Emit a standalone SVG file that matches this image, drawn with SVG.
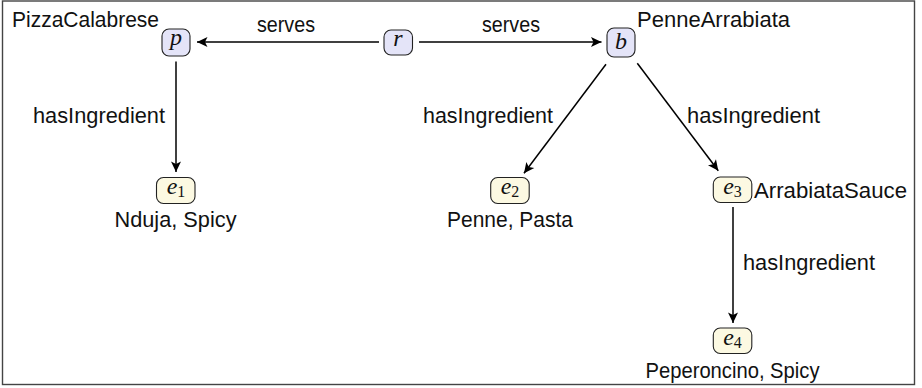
<svg xmlns="http://www.w3.org/2000/svg" width="922" height="388" viewBox="0 0 922 388">
<style>
.frame{fill:#fff;stroke:#444;stroke-width:1.4}
.nb{fill:#e4e4f8;stroke:#222;stroke-width:1.1}
.ny{fill:#fcf9e2;stroke:#222;stroke-width:1.1}
.m{font-family:"Liberation Serif","DejaVu Serif",serif;font-style:italic;font-size:24px;fill:#111}
.sub{font-style:normal;font-size:16px}
.t{font-family:"Liberation Sans",Arial,sans-serif;font-size:22.5px;fill:#111}
.e{fill:none;stroke:#000;stroke-width:1.5}
</style>
<defs>
<marker id="ah" markerUnits="userSpaceOnUse" viewBox="-11 -6 12 12" refX="0" refY="0" markerWidth="12" markerHeight="12" orient="auto">
<path d="M0,0 L-10.5,-5 L-8,0 L-10.5,5 Z" fill="#000"/>
</marker>
</defs>
<rect class="frame" x="2.5" y="1" width="912" height="383.5"/>
<g id="connectors">
<line class="e" x1="379" y1="42" x2="197" y2="42" marker-end="url(#ah)"/>
<line class="e" x1="419" y1="42" x2="601.5" y2="42" marker-end="url(#ah)"/>
<line class="e" x1="176" y1="61.5" x2="176" y2="172" marker-end="url(#ah)"/>
<line class="e" x1="606" y1="64.3" x2="524" y2="173.3" marker-end="url(#ah)"/>
<line class="e" x1="637.3" y1="63.3" x2="718.3" y2="170.7" marker-end="url(#ah)"/>
<line class="e" x1="733" y1="207" x2="733" y2="323" marker-end="url(#ah)"/>
<text class="t" x="257" y="32.3" textLength="58" lengthAdjust="spacingAndGlyphs">serves</text>
<text class="t" x="482" y="32.3" textLength="58" lengthAdjust="spacingAndGlyphs">serves</text>
<text class="t" x="33" y="123.3" textLength="132" lengthAdjust="spacingAndGlyphs">hasIngredient</text>
<text class="t" x="423" y="123.3" textLength="130" lengthAdjust="spacingAndGlyphs">hasIngredient</text>
<text class="t" x="687" y="123.3" textLength="133" lengthAdjust="spacingAndGlyphs">hasIngredient</text>
<text class="t" x="743" y="270" textLength="132" lengthAdjust="spacingAndGlyphs">hasIngredient</text>
</g>
<g id="p">
<rect class="nb" x="162" y="29" width="28" height="27" rx="7"/>
<text class="m" x="176" y="45" text-anchor="middle">p</text>
<text class="t" x="12" y="26.7" textLength="147" lengthAdjust="spacingAndGlyphs">PizzaCalabrese</text>
</g>
<g id="r">
<rect class="nb" x="384" y="30" width="28.5" height="25" rx="7"/>
<text class="m" x="398" y="46" text-anchor="middle">r</text>
</g>
<g id="b">
<rect class="nb" x="607" y="28" width="28" height="29" rx="7"/>
<text class="m" x="621" y="49" text-anchor="middle">b</text>
<text class="t" x="637" y="26.7" textLength="153" lengthAdjust="spacingAndGlyphs">PenneArrabiata</text>
</g>
<g id="e1">
<rect class="ny" x="156.5" y="177.5" width="38.5" height="26" rx="7"/>
<text class="m" x="176" y="194.3" text-anchor="middle">e<tspan class="sub" dy="3">1</tspan></text>
<text class="t" x="175.5" y="227" text-anchor="middle" textLength="122" lengthAdjust="spacingAndGlyphs">Nduja, Spicy</text>
</g>
<g id="e2">
<rect class="ny" x="490.7" y="177.5" width="38.5" height="26" rx="7"/>
<text class="m" x="510" y="194.3" text-anchor="middle">e<tspan class="sub" dy="3">2</tspan></text>
<text class="t" x="510" y="227" text-anchor="middle" textLength="126" lengthAdjust="spacingAndGlyphs">Penne, Pasta</text>
</g>
<g id="e3">
<rect class="ny" x="713.3" y="177" width="38.5" height="25.5" rx="7"/>
<text class="m" x="732.5" y="193.8" text-anchor="middle">e<tspan class="sub" dy="3">3</tspan></text>
<text class="t" x="754" y="198" textLength="153" lengthAdjust="spacingAndGlyphs">ArrabiataSauce</text>
</g>
<g id="e4">
<rect class="ny" x="713.3" y="328" width="38.5" height="25.5" rx="7"/>
<text class="m" x="732.5" y="344.8" text-anchor="middle">e<tspan class="sub" dy="3">4</tspan></text>
<text class="t" x="732.5" y="377.5" text-anchor="middle" textLength="174" lengthAdjust="spacingAndGlyphs">Peperoncino, Spicy</text>
</g>
</svg>
